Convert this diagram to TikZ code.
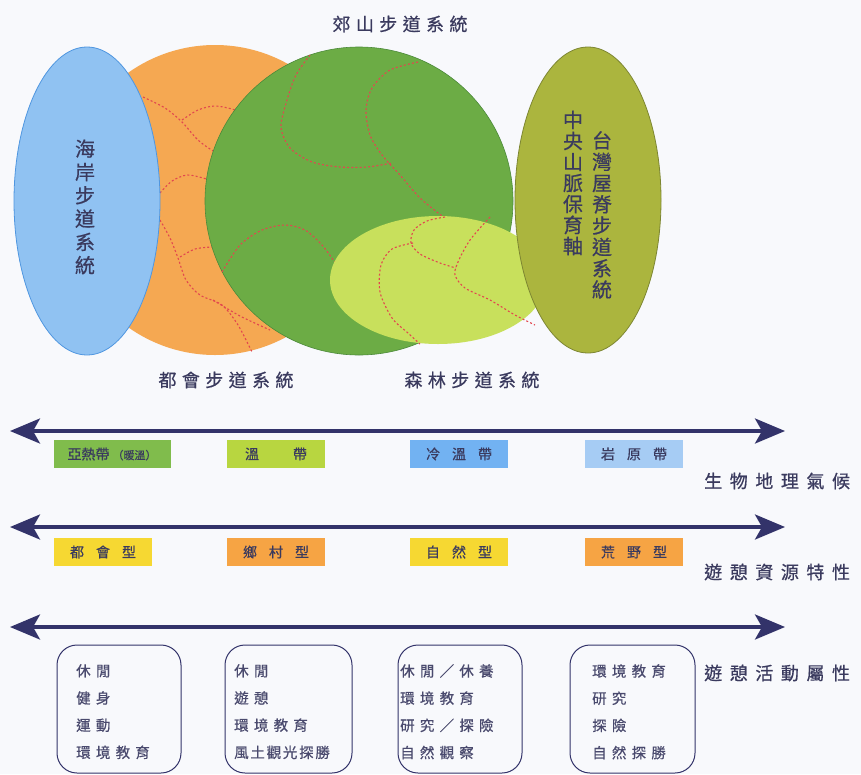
\documentclass[tikz,border=0pt]{standalone}
\usepackage{fontspec}
\setmainfont{Noto Sans CJK TC}[FakeBold=0.6]
\usetikzlibrary{arrows.meta}
\definecolor{navy}{HTML}{33336A}
\definecolor{txt}{HTML}{3A3A5E}
\definecolor{txtl}{HTML}{4A4A6E}
\definecolor{bgc}{HTML}{F8F9FC}
\definecolor{cblue}{HTML}{90C2F2}
\definecolor{cblueb}{HTML}{4F96E0}
\definecolor{corange}{HTML}{F5A852}
\definecolor{cgreen}{HTML}{6CAC45}
\definecolor{cgreenb}{HTML}{4C8A3A}
\definecolor{clight}{HTML}{C8E05C}
\definecolor{colive}{HTML}{ABB53E}
\definecolor{coliveb}{HTML}{7D8632}
\definecolor{cred}{HTML}{E2474E}
\definecolor{bgreen}{HTML}{80BC4C}
\definecolor{bygreen}{HTML}{B8D640}
\definecolor{bblue}{HTML}{72B2F2}
\definecolor{blblue}{HTML}{A6CCF4}
\definecolor{byellow}{HTML}{F6D832}
\definecolor{borange}{HTML}{F6A444}
\newcommand\jgap{\hspace{12pt}}
\tikzset{
  reddash/.style={draw=cred, line width=1.1pt, dash pattern=on 2pt off 2.2pt},
  title/.style={text=txt, inner sep=0pt, font=\fontsize{18}{20}\selectfont\addfontfeature{LetterSpace=30}},
  vtext/.style={text=txt, inner sep=0pt, align=center},
  tag/.style={minimum width=98pt, minimum height=28pt, inner sep=0pt, text=txt, font=\fontsize{14}{16}\selectfont},
  side/.style={text=txt, inner sep=0pt, anchor=west, font=\fontsize{18}{20}\selectfont\addfontfeature{LetterSpace=42}},
  actbox/.style={draw=navy, line width=1pt, rounded corners=20pt},
  acttext/.style={text=txtl, inner sep=0pt, anchor=north west, align=left, font=\fontsize{14.5}{27.2}\selectfont\addfontfeature{LetterSpace=36}},
  axis/.style={navy, line width=3.4pt, {Stealth[length=30pt,width=25pt,inset=7pt]}-{Stealth[length=30pt,width=25pt,inset=7pt]}}
}
\begin{document}
\begin{tikzpicture}[x=1pt,y=-1pt]
\useasboundingbox (0,0) rectangle (861,774);
\fill[bgc] (0,0) rectangle (861,774);

% orange circle and its paths
\fill[corange] (215,200) ellipse [x radius=152pt, y radius=155pt];
\draw[reddash] plot[smooth] coordinates {(143,97) (165,108) (182,122) (198,140) (215,152) (235,160)};
\draw[reddash] plot[smooth] coordinates {(182,120) (198,110) (215,106) (235,110) (250,118)};
\draw[reddash] plot[smooth] coordinates {(160,193) (172,181) (187,175) (203,178) (215,182)};
\draw[reddash] plot[smooth] coordinates {(160,220) (170,238) (178,258) (186,280) (200,295) (222,305) (238,325) (252,352)};
\draw[reddash] plot[smooth] coordinates {(180,257) (195,249) (212,247)};
\draw[reddash] plot[smooth] coordinates {(213,300) (240,316) (270,330)};

% green circle
\filldraw[fill=cgreen, draw=cgreenb, line width=0.6pt] (359,201) ellipse [x radius=154pt, y radius=154pt];
\draw[reddash] plot[smooth] coordinates {(310,55) (296,75) (287,100) (281,127) (290,148) (312,162) (340,167) (367,167) (392,163)};
\draw[reddash] plot[smooth] coordinates {(418,62) (390,70) (372,88) (366,110) (370,135) (382,155) (400,175) (420,198) (442,216)};
\draw[reddash] plot[smooth] coordinates {(222,272) (240,245) (262,230) (285,225) (305,230) (322,245) (336,264)};

% light green ellipse
\fill[clight] (438,280) ellipse [x radius=108pt, y radius=64pt];
\draw[reddash] plot[smooth] coordinates {(445,217) (427,221) (414,230) (411,243) (420,254) (440,263) (456,268)};
\draw[reddash] plot[smooth] coordinates {(490,217) (470,240) (458,262) (455,275) (465,288) (490,300) (515,315) (535,325)};
\draw[reddash] plot[smooth] coordinates {(413,243) (392,249) (381,265) (380,292) (392,318) (408,333) (420,344)};

% blue and olive ellipses
\filldraw[fill=cblue, draw=cblueb, line width=0.8pt] (87,201) ellipse [x radius=73pt, y radius=154pt];
\filldraw[fill=colive, draw=coliveb, line width=0.8pt] (588,200) ellipse [x radius=73pt, y radius=153pt];

% ellipse labels
\node[title] (tsub) at (400,24) {郊山步道系統};
\node[title] (tcity) at (226,380) {都會步道系統};
\node[title] (tforest) at (472,380) {森林步道系統};
\node[vtext, font=\fontsize{20}{23.3}\selectfont] (tcoast) at (85,207) {海\\岸\\步\\道\\系\\統};
\node[vtext, font=\fontsize{20}{21}\selectfont] (tcentral) at (573,183) {中\\央\\山\\脈\\保\\育\\軸};
\node[vtext, font=\fontsize{20}{21.3}\selectfont] (troof) at (602,215) {台\\灣\\屋\\脊\\步\\道\\系\\統};

% axes
\coordinate (a1l) at (10,431); \coordinate (a1r) at (785,431);
\coordinate (a2l) at (10,527); \coordinate (a2r) at (785,527);
\coordinate (a3l) at (10,627); \coordinate (a3r) at (785,627);
\draw[axis] (a1l) -- (a1r);
\draw[axis] (a2l) -- (a2r);
\draw[axis] (a3l) -- (a3r);

% row 1
\node[tag, fill=bgreen, minimum width=117pt] (r11) at (112,454) {亞熱帶\hspace{3pt}{\fontsize{11}{12}\selectfont（暖溫）}};
\node[tag, fill=bygreen] (r12) at (276,454) {溫\hspace{34pt}帶};
\node[tag, fill=bblue] (r13) at (459,454) {冷\jgap 溫\jgap 帶};
\node[tag, fill=blblue] (r14) at (634,454) {岩\jgap 原\jgap 帶};
\node[side] (s1) at (704,481) {生物地理氣候};

% row 2
\node[tag, fill=byellow] (r21) at (103,552) {都\jgap 會\jgap 型};
\node[tag, fill=borange] (r22) at (276,552) {鄉\jgap 村\jgap 型};
\node[tag, fill=byellow] (r23) at (459,552) {自\jgap 然\jgap 型};
\node[tag, fill=borange] (r24) at (634,552) {荒\jgap 野\jgap 型};
\node[side] (s2) at (704,572) {遊憩資源特性};

% row 3
\draw[actbox] (57,645) rectangle (181,773);
\draw[actbox] (225,645) rectangle (352,773);
\draw[actbox] (398,645) rectangle (522,773);
\draw[actbox] (570,645) rectangle (695,773);
\node[acttext] (t1) at (76,664) {休閒\\健身\\運動\\環境教育};
\node[acttext] (t2) at (234,664) {休閒\\遊憩\\環境教育\\{\addfontfeature{LetterSpace=12}風土觀光探勝}};
\node[acttext] (t3) at (400,664) {休閒／休養\\環境教育\\研究／探險\\自然觀察};
\node[acttext] (t4) at (592,664) {環境教育\\研究\\探險\\自然探勝};
\node[side] (s3) at (704,673) {遊憩活動屬性};
\end{tikzpicture}
\end{document}
